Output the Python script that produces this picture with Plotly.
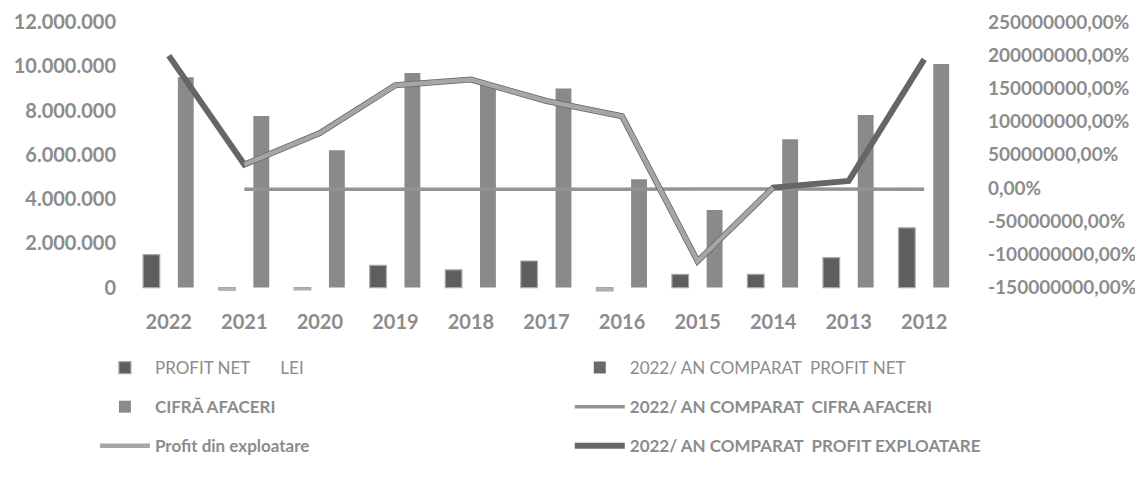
import plotly.graph_objects as go

# ---- data ----
years = ["2022", "2021", "2020", "2019", "2018", "2017", "2016", "2015", "2014", "2013", "2012"]

profit_net_lei = [1.49e6, -0.12e6, -0.10e6, 1.00e6, 0.80e6, 1.20e6, -0.15e6, 0.60e6, 0.60e6, 1.35e6, 2.70e6]
cifra_afaceri = [9.50e6, 7.75e6, 6.20e6, 9.70e6, 9.20e6, 9.00e6, 4.90e6, 3.50e6, 6.70e6, 7.80e6, 10.10e6]
profit_exploatare = [None, 5.56e6, 6.98e6, 9.14e6, 9.40e6, 8.43e6, 7.74e6, 1.19e6, 4.52e6, None, None]

# comparisons 2022 / year, in percent
cmp_profit_net = [0, 0, 0, 0, 0, 0, 0, 0, 0, 0, 0]
cmp_cifra_afaceri = [None, -1.9e6, -2.1e6, -2.2e6, -2.0e6, -2.0e6, -1.8e6, -1.5e6, -2.0e6, -2.0e6, -2.0e6]
cmp_profit_exploatare = [199.3e6, 35.3e6, 82.7e6, 154.7e6, 163.3e6, 131.0e6, 108.0e6, -110.3e6, 0.7e6, 10.7e6, 193.7e6]

left_range = [-0.2e6, 12e6]
right_tick_vals = [-150e6, -100e6, -50e6, 0, 50e6, 100e6, 150e6, 200e6, 250e6]
right_tick_labels = [("%.2f" % v).replace(".", ",") + "%" for v in right_tick_vals]

# ---- styles ----
TXT = "#8c8c8c"
FONT = "Lato"
pn_colors = ["#5e5e5e" if v >= 0 else "#b4b4b4" for v in profit_net_lei]

r_lo, r_hi = right_tick_vals[0], right_tick_vals[-1]
right_range = [r_lo - (0 - left_range[0]) / left_range[1] * (r_hi - r_lo), r_hi]

fig = go.Figure()

fig.add_trace(go.Bar(
    x=years, y=profit_net_lei, name="PROFIT NET\u00a0\u00a0\u00a0\u00a0\u00a0\u00a0\u00a0LEI",
    marker=dict(color=pn_colors, line=dict(color="#a8a8a8", width=1.2)),
    width=0.22, offset=-0.34, legend="legend", legendgroup="g1",
))
fig.add_trace(go.Bar(
    x=years, y=cifra_afaceri, name="<b>CIFRĂ AFACERI</b>",
    marker=dict(color="#8a8a8a", line=dict(width=0)),
    width=0.21, offset=0.12, legend="legend", legendgroup="g2",
))
fig.add_trace(go.Bar(
    x=years, y=cmp_profit_net, name="2022/ AN COMPARAT\u00a0\u00a0PROFIT NET",
    marker=dict(color="#6a6a6a", line=dict(width=0)),
    width=0.22, offset=-0.11, yaxis="y2", legend="legend2", legendgroup="g4",
))
fig.add_trace(go.Scatter(
    x=years, y=cmp_cifra_afaceri, name="<b>2022/ AN COMPARAT\u00a0\u00a0CIFRA AFACERI</b>",
    mode="lines", line=dict(color="#939393", width=3.5), yaxis="y2",
    legend="legend2", legendgroup="g5",
))
fig.add_trace(go.Scatter(
    x=years, y=cmp_profit_exploatare, name="<b>2022/ AN COMPARAT\u00a0\u00a0PROFIT EXPLOATARE</b>",
    mode="lines", line=dict(color="#666666", width=6), yaxis="y2",
    legend="legend2", legendgroup="g6",
))
fig.add_trace(go.Scatter(
    x=years, y=profit_exploatare, name="<b>Profit din exploatare</b>",
    mode="lines", line=dict(color="#a6a6a6", width=4.5), yaxis="y3",
    legend="legend", legendgroup="g3",
))

tickfont = dict(family=FONT, size=20, color=TXT, weight="bold")
rtickfont = dict(family=FONT, size=19, color=TXT, weight="bold")
legfont = dict(family=FONT, size=17, color=TXT)

# page body has an 8px margin, so the figure is sized to fit the window
fig.update_layout(
    width=1135, height=472, autosize=False,
    margin=dict(l=123, r=181, t=14, b=188, pad=0, autoexpand=False),
    paper_bgcolor="white", plot_bgcolor="white",
    separators=",.",
    barmode="overlay",
    xaxis=dict(type="category", range=[-0.5, 10.5], showgrid=False, showline=False, automargin=False,
               zeroline=False, ticks="", tickfont=tickfont, ticklabelstandoff=16),
    yaxis=dict(range=left_range, tick0=0, dtick=2e6, tickformat=",d", showgrid=False, automargin=False,
               zeroline=False, showline=False, ticks="", tickfont=tickfont, ticklabelstandoff=14),
    yaxis2=dict(overlaying="y", side="right", range=right_range, automargin=False,
                tickmode="array", tickvals=right_tick_vals, ticktext=right_tick_labels,
                showgrid=False, zeroline=False,
                showline=False, ticks="", tickfont=rtickfont, ticklabelstandoff=25),
    yaxis3=dict(overlaying="y", range=left_range, visible=False),
    legend=dict(x=-0.0434, y=-0.215, xanchor="left", yanchor="top", orientation="v",
                font=legfont, itemwidth=50, tracegroupgap=14, bgcolor="rgba(0,0,0,0)",
                traceorder="grouped"),
    legend2=dict(x=0.528, y=-0.215, xanchor="left", yanchor="top", orientation="v",
                 font=legfont, itemwidth=50, tracegroupgap=14, bgcolor="rgba(0,0,0,0)",
                 traceorder="grouped"),
)

fig.write_html("out.html", config={"displayModeBar": False})
